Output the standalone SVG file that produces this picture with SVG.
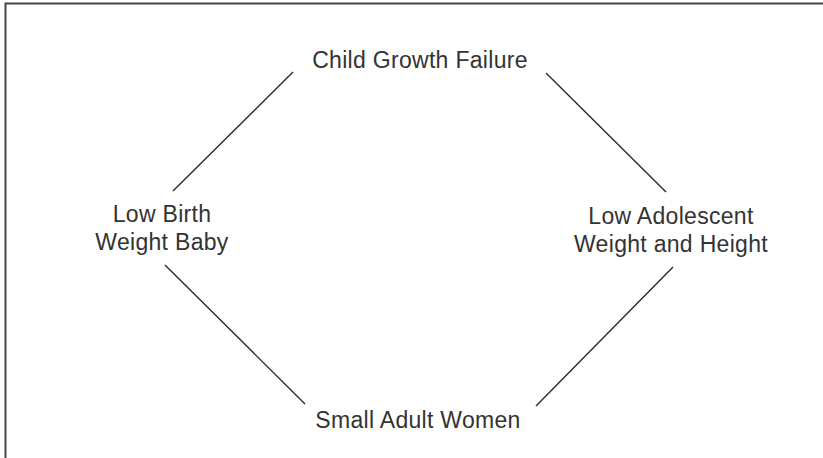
<svg xmlns="http://www.w3.org/2000/svg" width="823" height="458" viewBox="0 0 823 458">
<style>
.lbl{font-family:"Liberation Sans",Arial,sans-serif;font-size:23px;fill:#333;text-anchor:middle;letter-spacing:0.3px}
.con line{stroke:#2a2a2a;stroke-width:1.4;fill:none}
</style>
<rect x="0" y="0" width="823" height="458" fill="#fff"/>
<rect x="5.5" y="3.5" width="840" height="480" fill="none" stroke="#444" stroke-width="2"/>
<g id="connectors" class="con">
<line x1="293" y1="72" x2="173" y2="191"/>
<line x1="546" y1="73" x2="666" y2="192"/>
<line x1="165" y1="265" x2="305" y2="404"/>
<line x1="673" y1="267" x2="536" y2="406"/>
</g>
<g id="child-growth-failure"><text class="lbl" x="420" y="68">Child Growth Failure</text></g>
<g id="low-birth-weight-baby"><text class="lbl" x="162" y="222">Low Birth</text><text class="lbl" x="162" y="250">Weight Baby</text></g>
<g id="low-adolescent"><text class="lbl" x="671" y="224">Low Adolescent</text><text class="lbl" x="671" y="252">Weight and Height</text></g>
<g id="small-adult-women"><text class="lbl" x="418" y="428">Small Adult Women</text></g>
</svg>
